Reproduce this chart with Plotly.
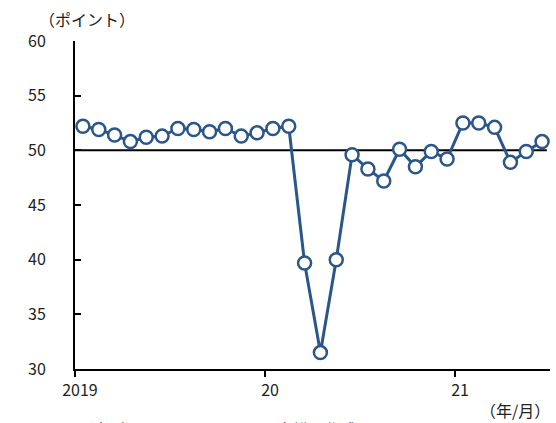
import plotly.graph_objects as go

months = list(range(30))  # 2019/01 .. 2021/06
values = [52.2, 51.9, 51.4, 50.8, 51.2, 51.3, 52.0, 51.9, 51.7, 52.0, 51.3, 51.6,
          52.0, 52.2, 39.7, 31.5, 40.0, 49.6, 48.3, 47.2, 50.1, 48.5, 49.9, 49.2,
          52.5, 52.5, 52.1, 48.9, 49.9, 50.8]
x_pos = [m + 0.5 for m in months]
tick_vals = [0, 12, 24]
tick_text = ["2019", "20", "21"]

font_family = "Noto Sans CJK JP, Liberation Sans, sans-serif"
blue = "#2B5689"

fig = go.Figure()
fig.add_trace(go.Scatter(
    x=x_pos, y=values, mode="lines+markers",
    line=dict(color=blue, width=3),
    marker=dict(symbol="circle", size=13, color="white", line=dict(color=blue, width=2.5)),
    showlegend=False, cliponaxis=False,
))
fig.add_shape(type="line", xref="x", yref="y", x0=0, x1=29.8, y0=50, y1=50,
              line=dict(color="black", width=2), layer="below")

fig.update_layout(
    width=556, height=423,
    margin=dict(l=75, r=6, t=41, b=54),
    paper_bgcolor="white", plot_bgcolor="white",
    font=dict(family=font_family, size=16, color="#222"),
    xaxis=dict(range=[0, 30], tickvals=tick_vals, ticktext=tick_text,
               showgrid=False, zeroline=False, showline=True, linecolor="black", linewidth=2,
               ticks="outside", ticklen=6, tickwidth=2, tickcolor="black",
               ticklabelshift=5,
               tickfont=dict(size=16, family=font_family)),
    yaxis=dict(range=[30, 60], tickvals=[30, 35, 40, 45, 50, 55, 60],
               showgrid=False, zeroline=False, showline=True, linecolor="black", linewidth=2,
               ticks="inside", ticklen=6, tickwidth=2, tickcolor="black",
               ticklabelstandoff=24,
               tickfont=dict(size=16, family=font_family)),
    annotations=[
        dict(text="（ポイント）", xref="paper", yref="paper", x=-0.08, y=1.067,
             xanchor="left", yanchor="middle", showarrow=False,
             font=dict(size=16, family=font_family)),
        dict(text="（年/月）", xref="paper", yref="paper", x=1.004, y=-0.125,
             xanchor="right", yanchor="middle", showarrow=False,
             font=dict(size=16, family=font_family)),
        dict(text="（出所）　　　　　　より日本総研作成", xref="paper", yref="paper",
             x=0.0, y=-0.14, xanchor="left", yanchor="top", showarrow=False,
             font=dict(size=16, family=font_family)),
    ],
)

fig.write_html("out.html")
